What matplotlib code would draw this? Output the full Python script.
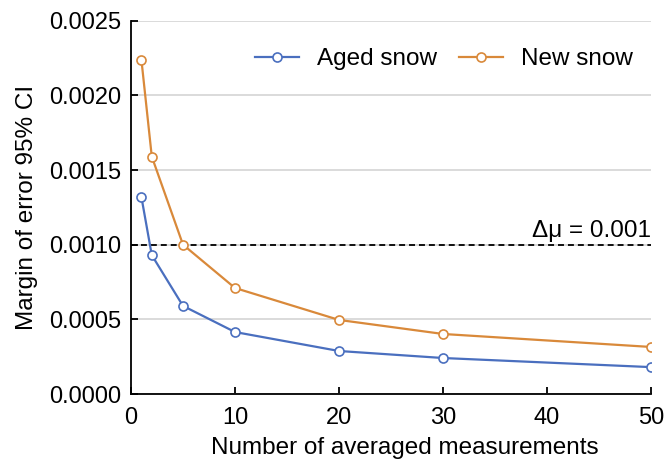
import matplotlib

matplotlib.use("Agg")
import matplotlib.pyplot as plt  # noqa: E402

n_measurements = [1, 2, 5, 10, 20, 30, 50]
aged_snow = [0.00132, 0.00093, 0.00059, 0.000415, 0.000288, 0.000241, 0.00018]
new_snow = [0.00224, 0.00159, 0.00100, 0.00071, 0.000496, 0.000402, 0.000315]
threshold = 0.001
y_ticks = [0.0, 0.0005, 0.0010, 0.0015, 0.0020, 0.0025]
x_ticks = [0, 10, 20, 30, 40, 50]

plt.rcParams["font.family"] = ["Liberation Sans", "DejaVu Sans"]

fig, ax = plt.subplots(figsize=(6.7, 4.7), dpi=100)
fig.subplots_adjust(left=0.1955, right=0.9716, top=0.956, bottom=0.1617)

marker_style = dict(marker="o", markersize=6.5, markerfacecolor="white", markeredgewidth=1.2)
ax.plot(n_measurements, aged_snow, color="#4a6fbf", lw=1.6, label="Aged snow", **marker_style)
ax.plot(n_measurements, new_snow, color="#d9893a", lw=1.6, label="New snow", **marker_style)
ax.axhline(threshold, color="black", lw=1.3, ls=(0, (3.3, 2.2)), zorder=1)
ax.text(50, threshold + 0.00005, "Δμ = 0.001", ha="right", va="baseline", fontsize=17.5)

ax.set_xlim(0, 50)
ax.set_ylim(0, 0.0025)
ax.set_xticks(x_ticks)
ax.set_yticks(y_ticks)
ax.set_yticklabels([f"{v:.4f}" for v in y_ticks])
ax.tick_params(labelsize=17, direction="in", length=5, width=1.3)
ax.tick_params(axis="y", pad=7)
ax.tick_params(axis="x", pad=9)
ax.grid(axis="y", color="#d4d4d4", lw=1.2, zorder=0)
ax.set_axisbelow(True)
for side in ("top", "right"):
    ax.spines[side].set_visible(False)
for side in ("left", "bottom"):
    ax.spines[side].set_linewidth(1.3)

ax.set_xlabel("Number of averaged measurements", fontsize=17.5)
ax.xaxis.set_label_coords(0.526, -0.115)
ax.set_ylabel("Margin of error 95% CI", fontsize=17.5, labelpad=8)
ax.legend(loc="center right", ncol=2, frameon=False, fontsize=17.5, handlelength=1.8,
          columnspacing=0.9, handletextpad=0.75, borderpad=0, borderaxespad=0,
          bbox_to_anchor=(0.965, 0.897))

fig.savefig("out.png")
